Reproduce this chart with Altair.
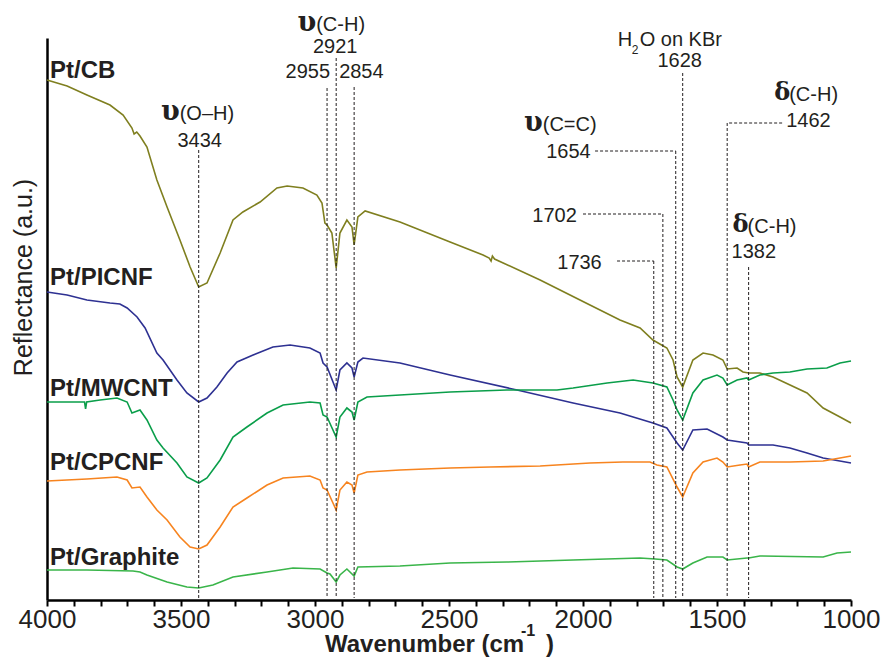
import altair as alt
import pandas as pd

# ---- spectra (wavenumber in cm-1, reflectance in arbitrary units, offset per sample) ----
SERIES = ["Pt/CB", "Pt/PICNF", "Pt/MWCNT", "Pt/CPCNF", "Pt/Graphite"]
COLORS = ["#7f7f1f", "#2e3192", "#0a9e4a", "#f7841f", "#3ab54a"]

WN_CB = [4000, 3925, 3851, 3765, 3716, 3683, 3675, 3665, 3653, 3627, 3590, 3552, 3504, 3466, 3434,
         3403, 3354, 3306, 3269, 3205, 3142, 3104, 3045, 2993, 2974, 2963, 2955, 2937, 2921, 2907,
         2881, 2862, 2854, 2840, 2813, 2683, 2496, 2373, 2350, 2343, 2338, 2330, 2160, 1974, 1862,
         1787, 1739, 1687, 1664, 1649, 1628, 1590, 1552, 1515, 1478, 1462, 1425, 1403, 1382, 1340,
         1291, 1164, 1104, 1041, 1000]
R_CB = [5.20, 5.14, 5.05, 4.95, 4.85, 4.72, 4.66, 4.68, 4.64, 4.53, 4.20, 3.93, 3.60, 3.33, 3.13,
        3.17, 3.47, 3.80, 3.88, 3.98, 4.12, 4.14, 4.12, 4.05, 3.97, 3.77, 3.75, 3.67, 3.32, 3.67,
        3.80, 3.73, 3.55, 3.83, 3.89, 3.78, 3.58, 3.45, 3.42, 3.39, 3.44, 3.41, 3.20, 2.95, 2.80,
        2.72, 2.60, 2.52, 2.40, 2.23, 2.13, 2.40, 2.47, 2.45, 2.40, 2.31, 2.32, 2.28, 2.27, 2.27,
        2.23, 2.07, 1.92, 1.83, 1.77]

WN_PI = [4000, 3925, 3851, 3765, 3728, 3701, 3664, 3634, 3590, 3567, 3515, 3478, 3434, 3403, 3366,
         3328, 3291, 3231, 3157, 3093, 3019, 2981, 2970, 2955, 2921, 2907, 2881, 2862, 2854, 2840,
         2821, 2683, 2496, 2246, 2037, 1862, 1739, 1687, 1649, 1628, 1590, 1537, 1478, 1462, 1388,
         1382, 1291, 1228, 1164, 1104, 1000]
R_PI = [3.08, 3.05, 3.00, 2.97, 2.96, 2.92, 2.83, 2.72, 2.47, 2.40, 2.20, 2.07, 1.98, 2.02, 2.13,
        2.27, 2.38, 2.45, 2.53, 2.55, 2.52, 2.47, 2.37, 2.33, 2.10, 2.30, 2.37, 2.32, 2.23, 2.38,
        2.42, 2.37, 2.25, 2.10, 1.97, 1.87, 1.77, 1.72, 1.57, 1.50, 1.70, 1.71, 1.63, 1.60, 1.57,
        1.55, 1.55, 1.52, 1.47, 1.42, 1.37]

WN_MW = [4000, 3925, 3860, 3856, 3852, 3802, 3739, 3701, 3683, 3653, 3627, 3590, 3567, 3515, 3478,
         3434, 3403, 3354, 3306, 3254, 3179, 3119, 3019, 2981, 2970, 2955, 2921, 2907, 2881, 2862,
         2854, 2840, 2806, 2683, 2496, 2284, 2097, 2037, 1910, 1813, 1739, 1687, 1664, 1649, 1628,
         1590, 1552, 1500, 1478, 1462, 1425, 1388, 1382, 1340, 1291, 1228, 1164, 1090, 1041, 1000]
R_MW = [1.98, 1.98, 1.98, 1.91, 1.98, 2.00, 2.02, 1.98, 1.87, 1.90, 1.80, 1.60, 1.52, 1.37, 1.23,
        1.17, 1.22, 1.40, 1.63, 1.73, 1.87, 1.95, 1.98, 1.97, 1.85, 1.83, 1.63, 1.83, 1.92, 1.88,
        1.80, 1.98, 2.03, 2.05, 2.08, 2.10, 2.10, 2.12, 2.17, 2.20, 2.17, 2.13, 2.00, 1.90, 1.80,
        2.07, 2.20, 2.25, 2.22, 2.15, 2.20, 2.22, 2.20, 2.25, 2.27, 2.28, 2.31, 2.32, 2.37, 2.39]

WN_CP = [4000, 3851, 3739, 3701, 3683, 3653, 3627, 3590, 3552, 3504, 3466, 3434, 3403, 3354, 3306,
         3254, 3179, 3119, 3019, 2981, 2970, 2955, 2921, 2907, 2881, 2862, 2854, 2840, 2806, 2683,
         2496, 2347, 2160, 1974, 1851, 1750, 1724, 1687, 1649, 1628, 1590, 1552, 1500, 1478, 1462,
         1414, 1388, 1382, 1340, 1228, 1104, 1041, 1000]
R_CP = [1.19, 1.21, 1.23, 1.20, 1.12, 1.13, 1.03, 0.90, 0.80, 0.63, 0.53, 0.51, 0.55, 0.73, 0.93,
        1.02, 1.15, 1.22, 1.24, 1.20, 1.12, 1.10, 0.90, 1.10, 1.18, 1.15, 1.07, 1.25, 1.28, 1.30,
        1.32, 1.33, 1.34, 1.37, 1.38, 1.38, 1.35, 1.33, 1.13, 1.03, 1.27, 1.38, 1.42, 1.38, 1.33,
        1.35, 1.36, 1.33, 1.38, 1.38, 1.39, 1.42, 1.44]

WN_GR = [4000, 3851, 3679, 3653, 3627, 3552, 3478, 3434, 3381, 3306, 3179, 3082, 2981, 2955, 2944,
         2921, 2907, 2881, 2854, 2840, 2683, 2496, 2284, 2037, 1787, 1731, 1687, 1649, 1628, 1590,
         1537, 1478, 1462, 1388, 1382, 1340, 1104, 1052, 1000]
R_GR = [0.30, 0.30, 0.29, 0.28, 0.25, 0.18, 0.13, 0.12, 0.15, 0.23, 0.28, 0.32, 0.31, 0.27, 0.26,
        0.18, 0.25, 0.31, 0.24, 0.33, 0.34, 0.37, 0.38, 0.40, 0.42, 0.41, 0.40, 0.33, 0.31, 0.37,
        0.43, 0.43, 0.40, 0.42, 0.42, 0.44, 0.43, 0.47, 0.48]

# band positions marked by dashed guides, and how high each guide reaches
PEAK_WN = [3434, 2955, 2921, 2854, 1736, 1702, 1654, 1628, 1462, 1382]
PEAK_TOP = [4.50, 5.12, 5.42, 5.13, 3.39, 3.86, 4.49, 5.27, 4.77, 3.33]
# horizontal leaders running from a label to its guide
LEADER_WN = [1736, 1702, 1654, 1462]
LEADER_FROM = [1873, 2000, 1955, 1257]
LEADER_Y = [3.39, 3.86, 4.49, 4.77]

# label baselines for each spectrum
LABEL_Y = [5.22, 3.15, 2.04, 1.30, 0.35]

INK = "#231f20"
SANS = "Liberation Sans"
SERIF = "DejaVu Serif"

spectra = pd.DataFrame(
    [
        {"sample": name, "wavenumber": w, "reflectance": r}
        for name, wn, rr in zip(
            SERIES,
            [WN_CB, WN_PI, WN_MW, WN_CP, WN_GR],
            [R_CB, R_PI, R_MW, R_CP, R_GR],
        )
        for w, r in zip(wn, rr)
    ]
)

x_scale = alt.Scale(domain=[1000, 4000], reverse=True, nice=False, zero=False)
y_scale = alt.Scale(domain=[0, 5.62], nice=False, zero=False)

x_axis = alt.Axis(
    values=list(range(1000, 4001, 100)),
    labelExpr="datum.value % 500 === 0 ? datum.label : ''",
    format="d",
    title=None,
    grid=False,
    domainColor="black",
    domainWidth=2.5,
    tickColor="black",
    tickWidth=2,
    tickSize=6,
    labelFont=SANS,
    labelFontSize=26,
    labelColor=INK,
    labelPadding=0,
    labelFlush=False,
    labelOverlap=False,
)
y_axis = alt.Axis(
    title="Reflectance (a.u.)",
    ticks=False,
    labels=False,
    grid=False,
    domainColor="black",
    domainWidth=2.5,
    titleFont=SANS,
    titleFontSize=25,
    titleFontWeight="normal",
    titleColor=INK,
    titleX=-16,
    titleY=239,
    titleAlign="center",
    titleBaseline="alphabetic",
    titleAngle=-90,
)


def X(field):
    return alt.X(field, scale=x_scale, axis=x_axis)


def Y(field):
    return alt.Y(field, scale=y_scale, axis=y_axis)


lines = (
    alt.Chart(spectra)
    .mark_line(strokeWidth=1.6, clip=False)
    .encode(
        x=X("wavenumber:Q"),
        y=Y("reflectance:Q"),
        color=alt.Color(
            "sample:N",
            scale=alt.Scale(domain=SERIES, range=COLORS),
            legend=None,
        ),
        detail="sample:N",
    )
)

guides = (
    alt.Chart(pd.DataFrame({"wn": PEAK_WN, "top": PEAK_TOP}))
    .mark_rule(strokeDash=[3, 2], strokeWidth=1, color=INK)
    .encode(x=X("wn:Q"), y=Y("top:Q"), y2=alt.datum(0.02))
)

leaders = (
    alt.Chart(pd.DataFrame({"wn": LEADER_WN, "start": LEADER_FROM, "level": LEADER_Y}))
    .mark_rule(strokeDash=[3, 2], strokeWidth=1, color=INK)
    .encode(x=X("start:Q"), x2="wn:Q", y=Y("level:Q"))
)

sample_labels = (
    alt.Chart(pd.DataFrame({"sample": SERIES, "wn": [4000] * 5, "y": LABEL_Y}))
    .mark_text(align="left", baseline="alphabetic", dx=3, font=SANS, fontSize=24,
               fontWeight="bold", color=INK)
    .encode(x=X("wn:Q"), y=Y("y:Q"), text="sample:N")
)


def note(text, wn, y, size=20, align="center", dx=0, font=SANS, weight="normal"):
    """A text label anchored to a band position."""
    return (
        alt.Chart(pd.DataFrame({"wn": [wn], "y": [y], "t": [text]}))
        .mark_text(align=align, baseline="alphabetic", dx=dx, font=font, fontSize=size,
                   fontWeight=weight, color=INK)
        .encode(x=X("wn:Q"), y=Y("y:Q"), text="t:N")
    )


notes = [
    # O-H stretch
    note("υ", 3434, 4.80, size=27, align="right", dx=-19, font=SERIF, weight="bold"),
    note("(O–H)", 3434, 4.80, align="left", dx=-19),
    note("3434", 3434, 4.53, dx=1),
    # C-H stretches
    note("υ", 2921, 5.69, size=27, align="right", dx=-20, font=SERIF, weight="bold"),
    note("(C-H)", 2921, 5.69, align="left", dx=-20),
    note("2921", 2921, 5.47, dx=-1),
    note("2955", 2955, 5.22, align="right", dx=3),
    note("2854", 2854, 5.22, align="left", dx=-15),
    # adsorbed water
    note("H", 1628, 5.54, align="left", dx=-65),
    note("2", 1628, 5.46, size=12, align="left", dx=-51),
    note("O on KBr", 1628, 5.54, align="left", dx=-43),
    note("1628", 1628, 5.33, dx=-3),
    # C=C stretch
    note("υ", 1654, 4.69, size=27, align="right", dx=-133, font=SERIF, weight="bold"),
    note("(C=C)", 1654, 4.69, align="left", dx=-133),
    note("1654", 1654, 4.42, align="right", dx=-85),
    note("1702", 1702, 3.78, align="right", dx=-86),
    note("1736", 1736, 3.31, align="right", dx=-52),
    # C-H bending
    note("δ", 1462, 5.00, size=24, align="left", dx=47, font=SERIF, weight="bold"),
    note("(C-H)", 1462, 4.99, align="left", dx=62),
    note("1462", 1462, 4.73, align="left", dx=59),
    note("δ", 1382, 3.68, size=24, align="left", dx=-16, font=SERIF, weight="bold"),
    note("(C-H)", 1382, 3.67, align="left", dx=-1),
    note("1382", 1382, 3.42, align="left", dx=-17),
]

# x-axis title with a superscript exponent
x_title = [
    alt.Chart(pd.DataFrame({"t": [t]}))
    .mark_text(align="left", baseline="alphabetic", font=SANS, fontSize=s, fontWeight="bold",
               color=INK)
    .encode(x=alt.value(px), y=alt.value(py), text="t:N")
    for t, px, py, s in [("Wavenumber (cm", 278, 614, 24), ("-1", 474, 598, 16), (")", 499, 614, 24)]
]

chart = (
    alt.layer(lines, guides, leaders, sample_labels, *notes, *x_title)
    .properties(
        width=804,
        height=562,
        padding={"left": 47, "top": 38, "right": 37, "bottom": 58},
        autosize=alt.AutoSizeParams(type="none"),
        background="white",
    )
    .configure_view(stroke=None)
)

chart.save("out.html", embed_options={"renderer": "svg", "actions": False})
